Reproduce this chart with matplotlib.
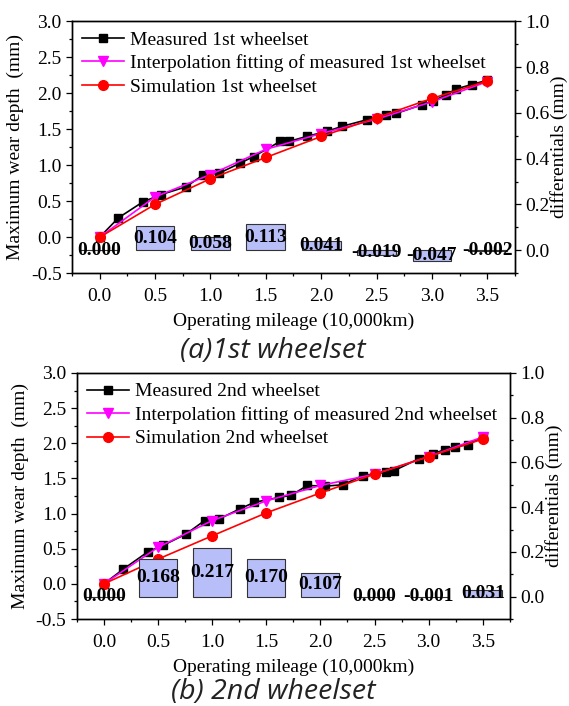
import numpy as np
import matplotlib
matplotlib.use("Agg")
import matplotlib.pyplot as plt
from matplotlib.ticker import MultipleLocator

plt.rcParams['font.family'] = ['Liberation Serif', 'DejaVu Serif']

# ---- 1st wheelset ----
meas1_x = [0, 0.17, 0.39, 0.55, 0.78, 0.93, 1.08, 1.27, 1.39, 1.63, 1.71, 1.87,
           2.05, 2.19, 2.41, 2.59, 2.68, 2.91, 3.01, 3.13, 3.22, 3.36, 3.50]
meas1_y = [0, 0.27, 0.49, 0.59, 0.70, 0.86, 0.89, 1.03, 1.12, 1.33, 1.33, 1.40,
           1.47, 1.54, 1.63, 1.70, 1.72, 1.84, 1.89, 1.98, 2.06, 2.12, 2.18]
grid_x = [0, 0.5, 1.0, 1.5, 2.0, 2.5, 3.0, 3.5]
interp1_y = [0, 0.56, 0.87, 1.22, 1.44, 1.64, 1.88, 2.16]
sim1_y = [0, 0.456, 0.812, 1.107, 1.399, 1.659, 1.927, 2.17]
diff1 = [0.000, 0.104, 0.058, 0.113, 0.041, -0.019, -0.047, -0.002]

# ---- 2nd wheelset ----
meas2_x = [0, 0.18, 0.41, 0.55, 0.76, 0.93, 1.06, 1.26, 1.39, 1.62, 1.73, 1.88,
           2.04, 2.21, 2.39, 2.61, 2.68, 2.91, 3.04, 3.15, 3.24, 3.36, 3.50]
meas2_y = [0, 0.21, 0.46, 0.55, 0.71, 0.90, 0.92, 1.07, 1.16, 1.23, 1.26, 1.40,
           1.39, 1.41, 1.54, 1.59, 1.61, 1.78, 1.85, 1.91, 1.95, 1.98, 2.09]
interp2_y = [0, 0.52, 0.90, 1.18, 1.40, 1.56, 1.81, 2.09]
sim2_y = [0, 0.352, 0.683, 1.01, 1.293, 1.56, 1.811, 2.059]
diff2 = [0.000, 0.168, 0.217, 0.170, 0.107, 0.000, -0.001, 0.031]

FS = 14


def style_ticks(ax, minor_y):
    ax.tick_params(axis='both', which='major', direction='out', length=4.5,
                   width=0.9, labelsize=FS, pad=3)
    ax.tick_params(axis='x', which='major', pad=6)
    ax.tick_params(axis='both', which='minor', direction='out', length=2.5,
                   width=0.9)
    ax.yaxis.set_minor_locator(MultipleLocator(minor_y))
    for s in ax.spines.values():
        s.set_linewidth(1.0)


def draw_panel(ax, mx, my, iy, sy, diff, tag, caption, cap_y):
    ax.plot(mx, my, '-', color='black', marker='s', ms=6, lw=1.2,
            label='Measured %s wheelset' % tag)
    ax.plot(grid_x, iy, '-', color='magenta', marker='v', ms=7.5, lw=1.2,
            label='Interpolation fitting of measured %s wheelset' % tag)
    ax.plot(grid_x, sy, '-', color='red', marker='o', ms=7, lw=1.2,
            label='Simulation %s wheelset' % tag)
    ax.set_xlim(-0.25, 3.75)
    ax.set_ylim(-0.5, 3.0)
    ax.xaxis.set_major_locator(MultipleLocator(0.5))
    ax.xaxis.set_minor_locator(MultipleLocator(0.25))
    ax.yaxis.set_major_locator(MultipleLocator(0.5))
    ax.xaxis.set_major_formatter(plt.FormatStrFormatter('%.1f'))
    ax.yaxis.set_major_formatter(plt.FormatStrFormatter('%.1f'))
    style_ticks(ax, 0.25)
    ax.set_xlabel('Operating mileage (10,000km)', fontsize=FS, labelpad=6)
    ax.set_ylabel('Maximum wear depth  (mm)', fontsize=FS, labelpad=5)
    ax.legend(loc='upper left', frameon=False, fontsize=FS, handlelength=2.2,
              handletextpad=0.3, labelspacing=0.3, borderaxespad=0.3,
              borderpad=0.2)

    ax2 = ax.twinx()
    ax2.bar(grid_x, diff, width=0.35, color='#b8bef7', edgecolor='#333333',
            linewidth=0.8)
    for x, d in zip(grid_x, diff):
        ax2.text(x, d / 2.0, '%.3f' % d, ha='center', va='center',
                 fontsize=FS, fontweight='bold', color='black')
    ax2.set_ylim(-0.1, 1.0)
    ax2.yaxis.set_major_locator(MultipleLocator(0.2))
    ax2.yaxis.set_major_formatter(plt.FormatStrFormatter('%.1f'))
    style_ticks(ax2, 0.1)
    ax2.set_ylabel('differentials (mm)', fontsize=FS, labelpad=0)

    fig.text(0.48, cap_y, caption, ha='center', va='center', fontsize=20.5,
             family=['Open Sans', 'DejaVu Sans'], style='italic',
             color='#222222')


fig = plt.figure(figsize=(5.69, 7.06), dpi=100)
ax_a = fig.add_axes([0.1265, 0.613, 0.7785, 0.357])
ax_b = fig.add_axes([0.135, 0.1232, 0.761, 0.3485])

draw_panel(ax_a, meas1_x, meas1_y, interp1_y, sim1_y, diff1, '1st',
           '(a)1st wheelset', 0.503)
draw_panel(ax_b, meas2_x, meas2_y, interp2_y, sim2_y, diff2, '2nd',
           '(b) 2nd wheelset', 0.02)

fig.savefig('out.png', dpi=100)
